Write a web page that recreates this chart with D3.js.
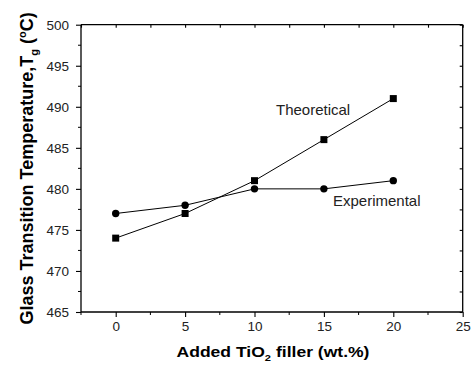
<!DOCTYPE html>
<html><head><meta charset="utf-8">
<script src="https://cdn.jsdelivr.net/npm/d3@7"></script>
<style>body{margin:0;background:#fff}svg{display:block;font-family:"Liberation Sans",Arial,sans-serif}</style>
</head><body><svg id="c" width="471" height="366"></svg>
<script>
const xValues = [0, 5, 10, 15, 20];
const theoretical = [474, 477, 481, 486, 491];
const experimental = [477, 478, 480, 480, 481];
const xTicks = [0, 5, 10, 15, 20, 25];
const yTicks = [465, 470, 475, 480, 485, 490, 495, 500];

const svg = d3.select("#c");
const L = 81, R = 462.7, T = 24.7, B = 312;
const x = d3.scaleLinear().domain([-2.5, 25]).range([L, R]);
const y = d3.scaleLinear().domain([465, 500]).range([B, T]);

const minorX = d3.range(-2.5, 25.01, 2.5).filter(v => !xTicks.includes(v));
const minorY = d3.range(465, 500.01, 2.5).filter(v => !yTicks.includes(v));

// bottom axis
const gB = svg.append("g").attr("transform", `translate(0,${B})`);
gB.call(d3.axisBottom(x).tickValues(xTicks).tickSize(5).tickPadding(4).tickFormat(d3.format("d")));
gB.selectAll(".mx").data(minorX).enter().append("line").attr("x1", d=>x(d)).attr("x2", d=>x(d)).attr("y1",0).attr("y2",3).attr("stroke","#000");
// left axis
const gL = svg.append("g").attr("transform", `translate(${L},0)`);
gL.call(d3.axisLeft(y).tickValues(yTicks).tickSize(5).tickPadding(7).tickFormat(d3.format("d")));
gL.selectAll(".my").data(minorY).enter().append("line").attr("y1", d=>y(d)).attr("y2", d=>y(d)).attr("x1",0).attr("x2",-3).attr("stroke","#000");
// top axis
const gT = svg.append("g").attr("transform", `translate(0,${T})`);
gT.call(d3.axisTop(x).tickValues(d3.range(-2.5, 25.01, 2.5)).tickSize(-3).tickFormat(""));
// right axis
const gR = svg.append("g").attr("transform", `translate(${R},0)`);
gR.call(d3.axisRight(y).tickValues(d3.range(465, 500.01, 2.5)).tickSize(-3).tickFormat(""));

svg.selectAll(".domain").attr("stroke","#000").attr("stroke-width",1.3);
svg.selectAll(".tick line").attr("stroke","#000").attr("stroke-width",1.1);
svg.selectAll(".tick text").attr("font-size","13.5px").attr("fill","#222").attr("font-family","Liberation Sans, Arial, sans-serif");
gB.selectAll(".domain").attr("d", `M${L},0H${R}`);
gL.selectAll(".domain").attr("d", `M0,${B}V${T}`);
gT.selectAll(".domain").attr("d", `M${L},0H${R}`);
gR.selectAll(".domain").attr("d", `M0,${B}V${T}`);

const line = d3.line().x((d,i)=>x(xValues[i])).y(d=>y(d));
svg.append("path").attr("d", line(theoretical)).attr("fill","none").attr("stroke","#000").attr("stroke-width",1);
svg.append("path").attr("d", line(experimental)).attr("fill","none").attr("stroke","#000").attr("stroke-width",1);

svg.selectAll(".sq").data(theoretical).enter().append("rect")
  .attr("x",(d,i)=>x(xValues[i])-3.5).attr("y",d=>y(d)-3.5).attr("width",7).attr("height",7).attr("fill","#000");
svg.selectAll(".ci").data(experimental).enter().append("circle")
  .attr("cx",(d,i)=>x(xValues[i])).attr("cy",d=>y(d)).attr("r",3.7).attr("fill","#000");

svg.append("text").attr("x",276).attr("y",115).attr("font-size","15px").attr("fill","#222").text("Theoretical");
svg.append("text").attr("x",333).attr("y",206).attr("font-size","15px").attr("fill","#222").text("Experimental");

// x title
const xt = svg.append("text").attr("transform","translate(273,357) scale(1.17,1)").attr("text-anchor","middle")
  .attr("font-size","15px").attr("font-weight","bold").attr("fill","#000");
xt.append("tspan").text("Added TiO");
xt.append("tspan").attr("font-size","9.5px").attr("dy",4).text("2");
xt.append("tspan").attr("dy",-4).text(" filler (wt.%)");

// y title
const yt = svg.append("text").attr("transform",`translate(33,${(T+B)/2}) rotate(-90)`).attr("text-anchor","middle")
  .attr("font-size","18px").attr("font-weight","bold").attr("fill","#000");
yt.append("tspan").text("Glass Transition Temperature,T");
yt.append("tspan").attr("font-size","11px").attr("dy",5).text("g");
yt.append("tspan").attr("dy",-5).text(" (");
yt.append("tspan").attr("font-size","11px").attr("dy",-7).text("o");
yt.append("tspan").attr("dy",7).text("C)");
</script></body></html>
